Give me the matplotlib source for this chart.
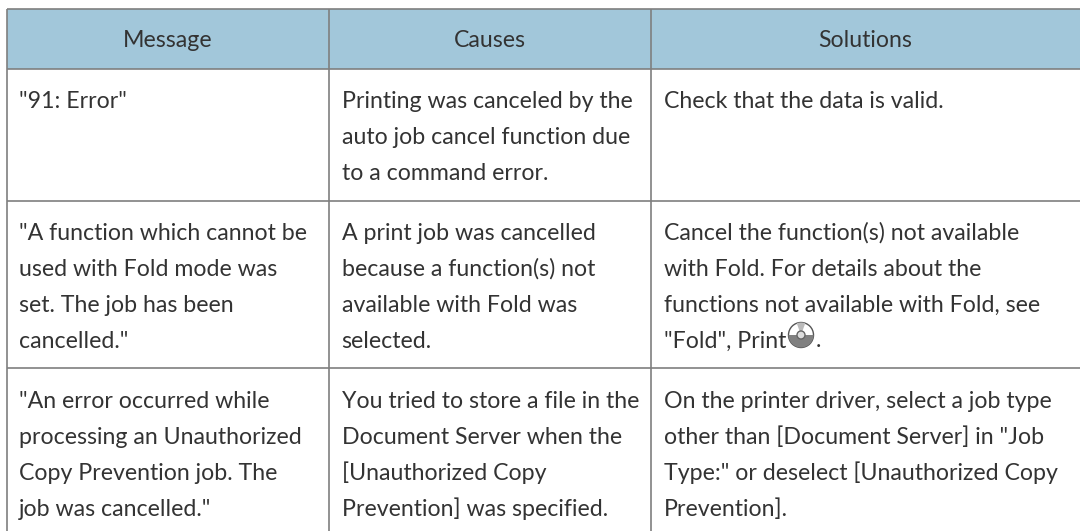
import matplotlib
matplotlib.use("Agg")
import matplotlib.pyplot as plt
from matplotlib.patches import Circle, Rectangle, Wedge

plt.rcParams['font.family'] = ['Lato', 'DejaVu Sans']

# Table contents
headers = ["Message", "Causes", "Solutions"]
messages = [
    ['"91: Error"'],
    ['"A function which cannot be', 'used with Fold mode was', 'set. The job has been', 'cancelled."'],
    ['"An error occurred while', 'processing an Unauthorized', 'Copy Prevention job. The', 'job was cancelled."'],
]
causes = [
    ['Printing was canceled by the', 'auto job cancel function due', 'to a command error.'],
    ['A print job was cancelled', 'because a function(s) not', 'available with Fold was', 'selected.'],
    ['You tried to store a file in the', 'Document Server when the', '[Unauthorized Copy', 'Prevention] was specified.'],
]
solutions = [
    ['Check that the data is valid.'],
    ['Cancel the function(s) not available', 'with Fold. For details about the', 'functions not available with Fold, see', '"Fold", Print'],
    ['On the printer driver, select a job type', 'other than [Document Server] in "Job', 'Type:" or deselect [Unauthorized Copy', 'Prevention].'],
]

# Layout in pixels
W, H = 1080, 531
col_edges = [6.7, 329, 651, 1080]
row_edges = [8.5, 68.5, 200.5, 368, 531]
first_baseline = [108, 240, 408]
line_step = 36
pad = 12.5
fs = 16.7
text_col = '#333333'
rule_col = '#7f7f7f'

fig = plt.figure(figsize=(W / 100, H / 100), dpi=100)
ax = fig.add_axes([0, 0, 1, 1])
ax.set_xlim(0, W)
ax.set_ylim(H, 0)
ax.axis('off')

# header band
ax.add_patch(Rectangle((col_edges[0], row_edges[0]), col_edges[-1] - col_edges[0],
                       row_edges[1] - row_edges[0], color='#a2c7da', lw=0))

# rules: no closing line at the bottom, right side runs off the picture
for x in col_edges[:-1]:
    ax.plot([x, x], [row_edges[0], row_edges[-1]], color=rule_col, lw=1.2, solid_capstyle='butt')
for y in row_edges[:-1]:
    ax.plot([col_edges[0], col_edges[-1]], [y, y], color=rule_col, lw=1.2, solid_capstyle='butt')

for i, h in enumerate(headers):
    ax.text((col_edges[i] + col_edges[i + 1]) / 2, 47, h, ha='center', va='baseline',
            fontsize=fs, color=text_col)

for c, column in enumerate([messages, causes, solutions]):
    for r, lines in enumerate(column):
        for n, line in enumerate(lines):
            ax.text(col_edges[c] + pad, first_baseline[r] + n * line_step, line,
                    ha='left', va='baseline', fontsize=fs, color=text_col)

# CD icon after "Print"
cx, cy, rad = 801, 335, 12.5
ax.add_patch(Circle((cx, cy), rad, fc='white', ec='#555555', lw=1))
ax.add_patch(Wedge((cx, cy), rad, 0, 180, fc='#808080', lw=0))
ax.add_patch(Wedge((cx, cy), rad, 250, 290, fc='#bbbbbb', lw=0))
ax.add_patch(Circle((cx, cy), 4, fc='#dddddd', ec='#666666', lw=1))
ax.text(816, 347, '.', ha='left', va='baseline', fontsize=fs, color=text_col)

fig.savefig('out.png', dpi=100)
